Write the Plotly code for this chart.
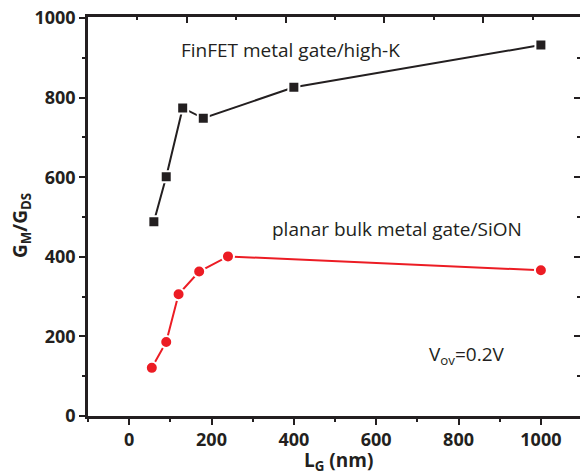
import plotly.graph_objects as go

# Data
finfet_lg = [60, 90, 130, 180, 400, 1000]
finfet_ratio = [488, 601, 774, 748, 826, 932]
planar_lg = [55, 90, 120, 170, 240, 1000]
planar_ratio = [121, 186, 306, 363, 401, 366]

x_ticks = [0, 200, 400, 600, 800, 1000]
y_ticks = [0, 200, 400, 600, 800, 1000]

INK = "#231f20"
RED = "#ec1c24"
FONT = "Open Sans"

W, H = 580, 474
ML, MR, MT, MB = 88, 0, 17, 58
PW, PH = W - ML - MR, H - MT - MB


def px(xp):
    return (xp - ML) / PW


def py(yp):
    return (H - MB - yp) / PH


fig = go.Figure()
fig.add_trace(go.Scatter(
    x=finfet_lg, y=finfet_ratio, mode="lines+markers",
    line=dict(color=INK, width=2),
    marker=dict(symbol="square", size=11, color=INK, line=dict(color="white", width=2)),
    showlegend=False, cliponaxis=False))
fig.add_trace(go.Scatter(
    x=planar_lg, y=planar_ratio, mode="lines+markers",
    line=dict(color=RED, width=2),
    marker=dict(symbol="circle", size=12, color=RED, line=dict(color="white", width=2)),
    showlegend=False, cliponaxis=False))

tickfont = dict(family=FONT, size=18, color=INK)

fig.update_layout(
    width=W, height=H,
    margin=dict(l=ML, r=MR, t=MT, b=MB, pad=0),
    paper_bgcolor="white", plot_bgcolor="white",
    font=dict(family=FONT, color=INK),
    xaxis=dict(
        range=[-100, 1095], tickmode="array", tickvals=x_ticks,
        ticktext=[f"<b>{v}</b>" for v in x_ticks], tickfont=tickfont,
        ticks="outside", ticklen=6, tickwidth=2, tickcolor=INK,
        minor=dict(dtick=100, tick0=0, ticks="outside", ticklen=3, tickwidth=2, tickcolor=INK),
        showline=True, linewidth=2.5, linecolor=INK,
        showgrid=False, zeroline=False),
    xaxis2=dict(
        overlaying="x", side="top", range=[0, 4.98], dtick=1, tick0=0,
        ticks="inside", ticklen=6, tickwidth=2, tickcolor=INK,
        minor=dict(dtick=0.5, ticks="inside", ticklen=3, tickwidth=2, tickcolor=INK),
        showticklabels=False, showline=True, linewidth=2.5, linecolor=INK,
        showgrid=False, zeroline=False),
    yaxis=dict(
        range=[0, 1002.5], tickmode="array", tickvals=y_ticks,
        ticktext=[f"<b>{v}</b>" for v in y_ticks], tickfont=tickfont,
        ticks="outside", ticklen=6, tickwidth=2, tickcolor=INK,
        minor=dict(dtick=100, tick0=0, ticks="outside", ticklen=3, tickwidth=2, tickcolor=INK),
        showline=True, linewidth=2.5, linecolor=INK,
        showgrid=False, zeroline=False),
    yaxis2=dict(
        overlaying="y", side="right", range=[0, 1002.5], dtick=200, tick0=0,
        ticks="inside", ticklen=6, tickwidth=2, tickcolor=INK,
        minor=dict(dtick=100, ticks="inside", ticklen=3, tickwidth=2, tickcolor=INK),
        showticklabels=False, showline=False,
        showgrid=False, zeroline=False),
)

# empty trace to activate the mirrored axes
fig.add_trace(go.Scatter(x=[], y=[], xaxis="x2", yaxis="y2", showlegend=False, hoverinfo="skip"))

annots = [
    dict(text="FinFET metal gate/high-K", x=px(290), y=py(50), size=19),
    dict(text="planar bulk metal gate/SiON", x=px(397), y=py(229), size=19),
    dict(text="V<sub>ov</sub>=0.2V", x=px(467), y=py(355), size=19),
    dict(text="<b>L<sub>G</sub> (nm)</b>", x=px(338), y=py(461), size=19),
]
for a in annots:
    fig.add_annotation(text=a["text"], x=a["x"], y=a["y"], xref="paper", yref="paper",
                       xanchor="center", yanchor="middle", showarrow=False,
                       font=dict(family=FONT, size=a["size"], color=INK))
fig.add_annotation(text="<b>G<sub>M</sub>/G<sub>DS</sub></b>", x=px(21), y=py(226),
                   xref="paper", yref="paper", xanchor="center", yanchor="middle",
                   textangle=-90, showarrow=False,
                   font=dict(family=FONT, size=19, color=INK))

fig.write_html("out.html")
